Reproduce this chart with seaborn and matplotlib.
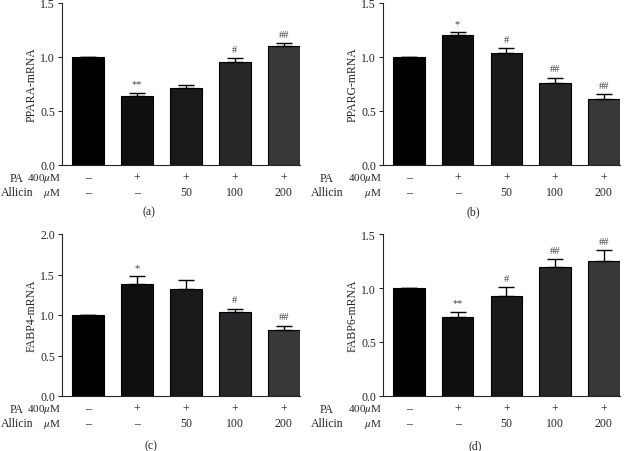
#import libraries
import pandas as pd
import matplotlib.pyplot as plt
import seaborn as sns
import numpy as np

#data
groups = ['Control', 'PA', 'PA+A50', 'PA+A100', 'PA+A200']
pa_row = ['–', '+', '+', '+', '+']
allicin_row = ['–', '–', '50', '100', '200']

ppara = [1.00, 0.64, 0.71, 0.95, 1.10]
ppara_err = [0.0, 0.03, 0.03, 0.04, 0.03]
ppara_sig = ['', '**', '', '#', '##']

pparg = [1.00, 1.20, 1.04, 0.76, 0.61]
pparg_err = [0.0, 0.03, 0.04, 0.05, 0.05]
pparg_sig = ['', '*', '#', '##', '##']

fabp4 = [1.00, 1.38, 1.32, 1.04, 0.81]
fabp4_err = [0.0, 0.10, 0.11, 0.04, 0.06]
fabp4_sig = ['', '*', '', '#', '##']

fabp6 = [1.00, 0.73, 0.93, 1.19, 1.25]
fabp6_err = [0.0, 0.05, 0.08, 0.08, 0.10]
fabp6_sig = ['', '**', '#', '##', '##']

bar_colors = ['#000000', '#0f0f10', '#19191a', '#27272a', '#38383b']

sns.set_style('ticks')
plt.rcParams['font.family'] = ['Liberation Serif', 'DejaVu Serif']
plt.rcParams['mathtext.fontset'] = 'stix'

fig = plt.figure(figsize=(6.28, 4.52), dpi=100)

panels = [
    (ppara, ppara_err, ppara_sig, 'PPARA-mRNA', 1.5, '(a)', [62, 4, 238], 0),
    (pparg, pparg_err, pparg_sig, 'PPARG-mRNA', 1.5, '(b)', [383, 4, 237], 310),
    (fabp4, fabp4_err, fabp4_sig, 'FABP4-mRNA', 2.0, '(c)', [62, 235, 238], 0),
    (fabp6, fabp6_err, fabp6_sig, 'FABP6-mRNA', 1.5, '(d)', [383, 235, 237], 310),
]
cap_x = {'(a)': 149, '(b)': 473, '(c)': 151, '(d)': 475}
cap_y = {'(a)': 212, '(b)': 212, '(c)': 446, '(d)': 446}
fs = 8.5

for vals, errs, sigs, ylab, ymax, cap, (px, py, pw), x0 in panels:
    ax = fig.add_axes([px / 628, 1 - (py + 162) / 452, pw / 628, 162 / 452])
    df = pd.DataFrame({'group': groups, 'value': vals})
    sns.barplot(data=df, x='group', y='value', hue='group', palette=bar_colors,
                legend=False, width=0.65, edgecolor='black', linewidth=0.8, ax=ax)
    pos = np.arange(len(groups))
    ax.errorbar(pos, vals, yerr=[np.zeros(len(errs)), errs], fmt='none',
                ecolor='black', elinewidth=1.0, capsize=5.5, capthick=1.0)
    for i in range(len(groups)):
        if sigs[i]:
            ax.annotate(sigs[i], (pos[i], vals[i] + errs[i]), xytext=(0, 3),
                        textcoords='offset points', ha='center', va='bottom',
                        fontsize=7.5, color='#444444')
    ax.set_xlim(-0.53, 4.33)
    ax.set_ylim(0, ymax)
    ax.set_yticks(np.arange(0, ymax + 0.01, 0.5))
    ax.set_xticks(pos)
    ax.set_xticklabels([a + '\n' + b for a, b in zip(pa_row, allicin_row)],
                       fontsize=fs, linespacing=1.3)
    ax.tick_params(axis='x', length=0, pad=4.5)
    ax.tick_params(axis='y', labelsize=fs, length=3, width=0.8, pad=2)
    ax.set_xlabel('')
    ax.set_ylabel(ylab, fontsize=fs, labelpad=2)
    sns.despine(ax=ax)
    for s in ['left', 'bottom']:
        ax.spines[s].set_linewidth(0.8)
    #row labels under the axis
    ax.text(-0.005, -0.08, '400$\\mu$M', transform=ax.transAxes, ha='right', va='center', fontsize=8)
    ax.text(-0.005, -0.167, '$\\mu$M', transform=ax.transAxes, ha='right', va='center', fontsize=8)
    ax.text((x0 + 17 - px) / pw, -0.08, 'PA', transform=ax.transAxes, ha='center', va='center', fontsize=fs)
    ax.text((x0 + 1 - px) / pw, -0.167, 'Allicin', transform=ax.transAxes, ha='left', va='center', fontsize=fs)
    fig.text(cap_x[cap] / 628, 1 - cap_y[cap] / 452, cap, ha='center', va='center', fontsize=fs)

fig.savefig('out.png', dpi=100)
